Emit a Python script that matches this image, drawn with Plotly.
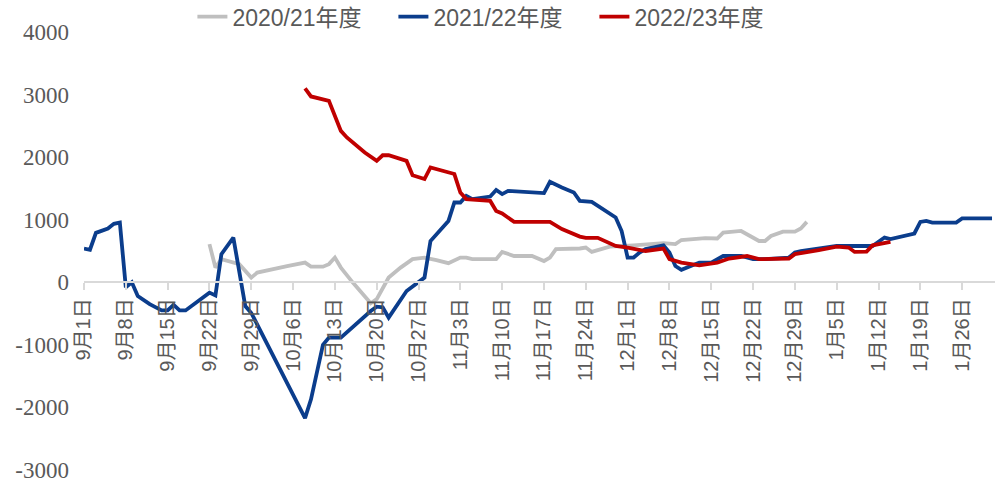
import plotly.graph_objects as go

# 2020/21 season
dates_2021 = ["2022-09-22", "2022-09-23", "2022-09-24", "2022-09-27", "2022-09-29", "2022-09-30",
              "2022-10-05", "2022-10-08", "2022-10-09", "2022-10-11", "2022-10-12", "2022-10-13",
              "2022-10-14", "2022-10-16", "2022-10-19", "2022-10-20", "2022-10-22", "2022-10-24",
              "2022-10-26", "2022-10-28", "2022-10-30", "2022-11-01", "2022-11-03", "2022-11-04",
              "2022-11-05", "2022-11-09", "2022-11-10", "2022-11-12", "2022-11-15", "2022-11-17",
              "2022-11-18", "2022-11-19", "2022-11-23", "2022-11-24", "2022-11-25", "2022-11-28",
              "2022-12-02", "2022-12-07", "2022-12-09", "2022-12-10", "2022-12-14", "2022-12-16",
              "2022-12-17", "2022-12-20", "2022-12-23", "2022-12-24", "2022-12-25", "2022-12-27",
              "2022-12-29", "2022-12-30", "2022-12-31"]
values_2021 = [610, 235, 370, 290, 75, 155,
               260, 315, 250, 250, 290, 395,
               235, -5, -335, -270, 75, 235,
               370, 395, 355, 305, 395, 395,
               370, 370, 485, 420, 420, 340,
               395, 530, 540, 555, 485, 570,
               590, 625, 610, 675, 705, 700,
               795, 820, 660, 660, 740, 810,
               810, 860, 965]

# 2021/22 season
dates_2122 = ["2022-09-01", "2022-09-02", "2022-09-03", "2022-09-05", "2022-09-06", "2022-09-07",
              "2022-09-08", "2022-09-09", "2022-09-10", "2022-09-12", "2022-09-14", "2022-09-15",
              "2022-09-16", "2022-09-17", "2022-09-18", "2022-09-22", "2022-09-23", "2022-09-24",
              "2022-09-26", "2022-09-28", "2022-09-29", "2022-10-08", "2022-10-09", "2022-10-11",
              "2022-10-12", "2022-10-14", "2022-10-19", "2022-10-20", "2022-10-21", "2022-10-22",
              "2022-10-25", "2022-10-28", "2022-10-29", "2022-11-01", "2022-11-02", "2022-11-03",
              "2022-11-04", "2022-11-05", "2022-11-08", "2022-11-09", "2022-11-10", "2022-11-11",
              "2022-11-17", "2022-11-18", "2022-11-20", "2022-11-22", "2022-11-23", "2022-11-25",
              "2022-11-29", "2022-11-30", "2022-12-01", "2022-12-02", "2022-12-03", "2022-12-04",
              "2022-12-07", "2022-12-08", "2022-12-09", "2022-12-10", "2022-12-13", "2022-12-15",
              "2022-12-17", "2022-12-20", "2022-12-22", "2022-12-24", "2022-12-28", "2022-12-29",
              "2022-12-30", "2023-01-05", "2023-01-11", "2023-01-13", "2023-01-14", "2023-01-18",
              "2023-01-19", "2023-01-20", "2023-01-21", "2023-01-25", "2023-01-26", "2023-01-31"]
values_2122 = [540, 520, 790, 860, 935, 955,
               -80, 0, -220, -350, -450, -450,
               -360, -450, -450, -165, -210, 450,
               715, -380, -490, -2170, -1870, -1000,
               -885, -885, -460, -390, -400, -565,
               -140, 75, 660, 980, 1275, 1275,
               1380, 1330, 1370, 1475, 1410, 1460,
               1425, 1605, 1515, 1435, 1300, 1285,
               1035, 820, 395, 395, 475, 530,
               590, 475, 260, 200, 315, 315,
               420, 420, 370, 370, 395, 475,
               500, 580, 580, 715, 690, 780,
               965, 980, 955, 955, 1020, 1020]

# 2022/23 season
dates_2223 = ["2022-10-08", "2022-10-09", "2022-10-12", "2022-10-14", "2022-10-15", "2022-10-18",
              "2022-10-20", "2022-10-21", "2022-10-22", "2022-10-25", "2022-10-26", "2022-10-28",
              "2022-10-29", "2022-11-02", "2022-11-03", "2022-11-04", "2022-11-08", "2022-11-09",
              "2022-11-10", "2022-11-12", "2022-11-18", "2022-11-20", "2022-11-23", "2022-11-24",
              "2022-11-26", "2022-11-29", "2022-12-01", "2022-12-04", "2022-12-07", "2022-12-08",
              "2022-12-10", "2022-12-13", "2022-12-16", "2022-12-18", "2022-12-21", "2022-12-23",
              "2022-12-28", "2022-12-29", "2023-01-02", "2023-01-05", "2023-01-07", "2023-01-08",
              "2023-01-10", "2023-01-11", "2023-01-14"]
values_2223 = [3100, 2970, 2900, 2420, 2315, 2075,
               1940, 2030, 2030, 1940, 1710, 1650,
               1835, 1730, 1435, 1330, 1300, 1140,
               1100, 965, 965, 850, 730, 710,
               710, 580, 555, 500, 540, 370,
               315, 270, 315, 380, 420, 370,
               380, 450, 515, 570, 555, 485,
               490, 590, 645]

tick_dates = ["2022-09-01", "2022-09-08", "2022-09-15", "2022-09-22", "2022-09-29", "2022-10-06",
              "2022-10-13", "2022-10-20", "2022-10-27", "2022-11-03", "2022-11-10", "2022-11-17",
              "2022-11-24", "2022-12-01", "2022-12-08", "2022-12-15", "2022-12-22", "2022-12-29",
              "2023-01-05", "2023-01-12", "2023-01-19", "2023-01-26"]
tick_labels = ["9月1日", "9月8日", "9月15日", "9月22日", "9月29日", "10月6日",
               "10月13日", "10月20日", "10月27日", "11月3日", "11月10日", "11月17日",
               "11月24日", "12月1日", "12月8日", "12月15日", "12月22日", "12月29日",
               "1月5日", "1月12日", "1月19日", "1月26日"]

y_ticks = [-3000, -2000, -1000, 0, 1000, 2000, 3000, 4000]
y_labels = ["-3000", "-2000", "-1000", "0", "1000", "2000", "3000", "4000"]

series = [("2020/21年度", dates_2021, values_2021, "#BFBFBF"),
          ("2021/22年度", dates_2122, values_2122, "#0B3D8C"),
          ("2022/23年度", dates_2223, values_2223, "#C00000")]

sans = "Liberation Sans, Noto Sans CJK SC"
serif = "Times New Roman, Liberation Serif, DejaVu Serif, serif"

fig = go.Figure()
for name, xs, ys, color in series:
    fig.add_trace(go.Scatter(x=xs, y=ys, name=name, mode="lines",
                             line=dict(color=color, width=3.8)))

fig.update_layout(
    width=995, height=486,
    margin=dict(l=84, r=0, t=32, b=16, autoexpand=False),
    plot_bgcolor="white", paper_bgcolor="white",
    font=dict(family=sans, color="#595959"),
    legend=dict(orientation="h", x=0.119, xanchor="left", y=1.035, yanchor="middle",
                font=dict(size=23, color="#595959", family=sans),
                entrywidth=156, bgcolor="rgba(0,0,0,0)"),
)
fig.update_xaxes(type="date", range=["2022-09-01", "2023-01-31 12:00"],
                 anchor="free", position=3 / 7,
                 showline=True, linecolor="#D9D9D9", linewidth=2,
                 ticks="outside", ticklen=7, tickcolor="#D9D9D9", tickwidth=2,
                 tickmode="array", tickvals=tick_dates, ticktext=tick_labels,
                 tickangle=-90, showgrid=False, zeroline=False,
                 tickfont=dict(size=20, color="#595959", family=sans))
fig.update_yaxes(range=[-3000, 4000], tickmode="array", tickvals=y_ticks, ticktext=y_labels,
                 showgrid=False, zeroline=False, showline=False, ticklabelstandoff=14,
                 tickfont=dict(size=23, color="#595959", family=serif))

# drop the default body margin so the figure sits at the page corner
fig.write_html("out.html", config={"displayModeBar": False},
               post_script="document.body.style.margin = '0';")
